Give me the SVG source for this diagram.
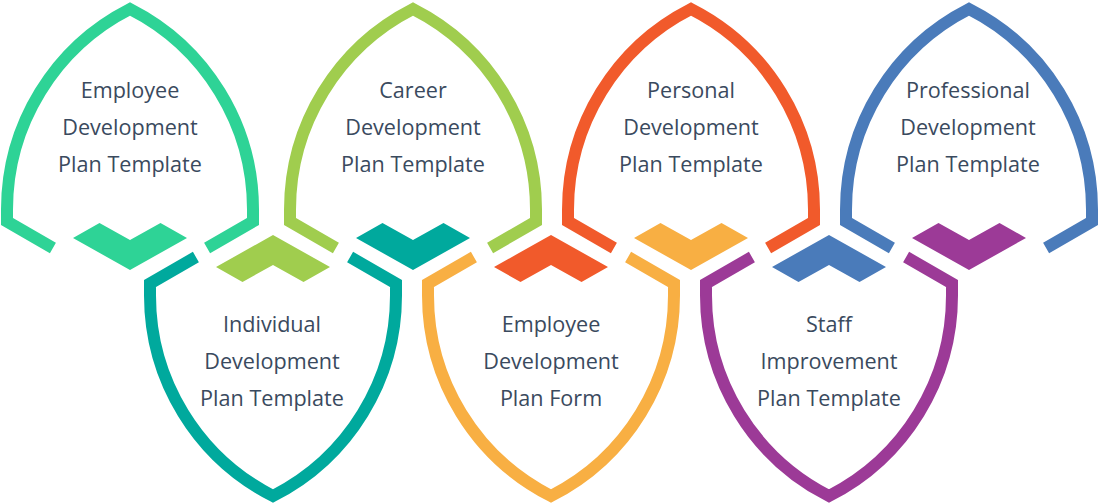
<svg xmlns="http://www.w3.org/2000/svg" xmlns:xlink="http://www.w3.org/1999/xlink" width="1100" height="504" viewBox="0 0 1100 504">
<style>
.outline{fill:none;stroke-width:12;stroke-linejoin:miter;stroke-miterlimit:10;stroke-linecap:butt}
.lbl{font-family:"Open Sans","Noto Sans","Liberation Sans",sans-serif;font-size:21.6px;fill:#3a4a5e;text-anchor:middle}
.c1{stroke:#2ed396}.c2{stroke:#00a99d}.c3{stroke:#a0cd4e}.c4{stroke:#f8af43}.c5{stroke:#f15a2b}.c6{stroke:#9c3a97}.c7{stroke:#4a7bba}
</style>
<defs>
<path id="arch" d="M -77.1,26.5 L -123,0 L -123,-12 A 224.9 224.9 0 0 1 0,-212.5 A 224.9 224.9 0 0 1 123,-12 L 123,0 L 77.1,26.5"/>
<path id="shield" d="M -77.1,-26.5 L -123,0 L -123,12 A 224.9 224.9 0 0 0 0,212.5 A 224.9 224.9 0 0 0 123,12 L 123,0 L 77.1,-26.5"/>
<polygon id="chevDown" points="-57,16.5 -30.5,1.5 0,18.5 30.5,1.5 57,16.5 0,48.5"/>
<polygon id="chevUp" points="-57,-16.5 -30.5,-1.5 0,-18.5 30.5,-1.5 57,-16.5 0,-48.5"/>
</defs>

<g id="chevrons">
<use href="#chevDown" x="130" y="221.5" fill="#2ed396"/>
<use href="#chevUp" x="273" y="283.5" fill="#a0cd4e"/>
<use href="#chevDown" x="413" y="221.5" fill="#00a99d"/>
<use href="#chevUp" x="551" y="283.5" fill="#f15a2b"/>
<use href="#chevDown" x="691" y="221.5" fill="#f8af43"/>
<use href="#chevUp" x="829" y="283.5" fill="#4a7bba"/>
<use href="#chevDown" x="969" y="221.5" fill="#9c3a97"/>
</g>

<g id="node1">
<use href="#arch" x="130" y="221.5" class="outline c1"/>
<text class="lbl" x="130" y="98">Employee</text>
<text class="lbl" x="130" y="135">Development</text>
<text class="lbl" x="130" y="172">Plan Template</text>
</g>

<g id="node2">
<use href="#shield" x="273" y="283.5" class="outline c2"/>
<text class="lbl" x="272" y="332">Individual</text>
<text class="lbl" x="272" y="369">Development</text>
<text class="lbl" x="272" y="406">Plan Template</text>
</g>

<g id="node3">
<use href="#arch" x="413" y="221.5" class="outline c3"/>
<text class="lbl" x="413" y="98">Career</text>
<text class="lbl" x="413" y="135">Development</text>
<text class="lbl" x="413" y="172">Plan Template</text>
</g>

<g id="node4">
<use href="#shield" x="551" y="283.5" class="outline c4"/>
<text class="lbl" x="551" y="332">Employee</text>
<text class="lbl" x="551" y="369">Development</text>
<text class="lbl" x="551" y="406">Plan Form</text>
</g>

<g id="node5">
<use href="#arch" x="691" y="221.5" class="outline c5"/>
<text class="lbl" x="691" y="98">Personal</text>
<text class="lbl" x="691" y="135">Development</text>
<text class="lbl" x="691" y="172">Plan Template</text>
</g>

<g id="node6">
<use href="#shield" x="829" y="283.5" class="outline c6"/>
<text class="lbl" x="829" y="332">Staff</text>
<text class="lbl" x="829" y="369">Improvement</text>
<text class="lbl" x="829" y="406">Plan Template</text>
</g>

<g id="node7">
<use href="#arch" x="969" y="221.5" class="outline c7"/>
<text class="lbl" x="968" y="98">Professional</text>
<text class="lbl" x="968" y="135">Development</text>
<text class="lbl" x="968" y="172">Plan Template</text>
</g>
</svg>
